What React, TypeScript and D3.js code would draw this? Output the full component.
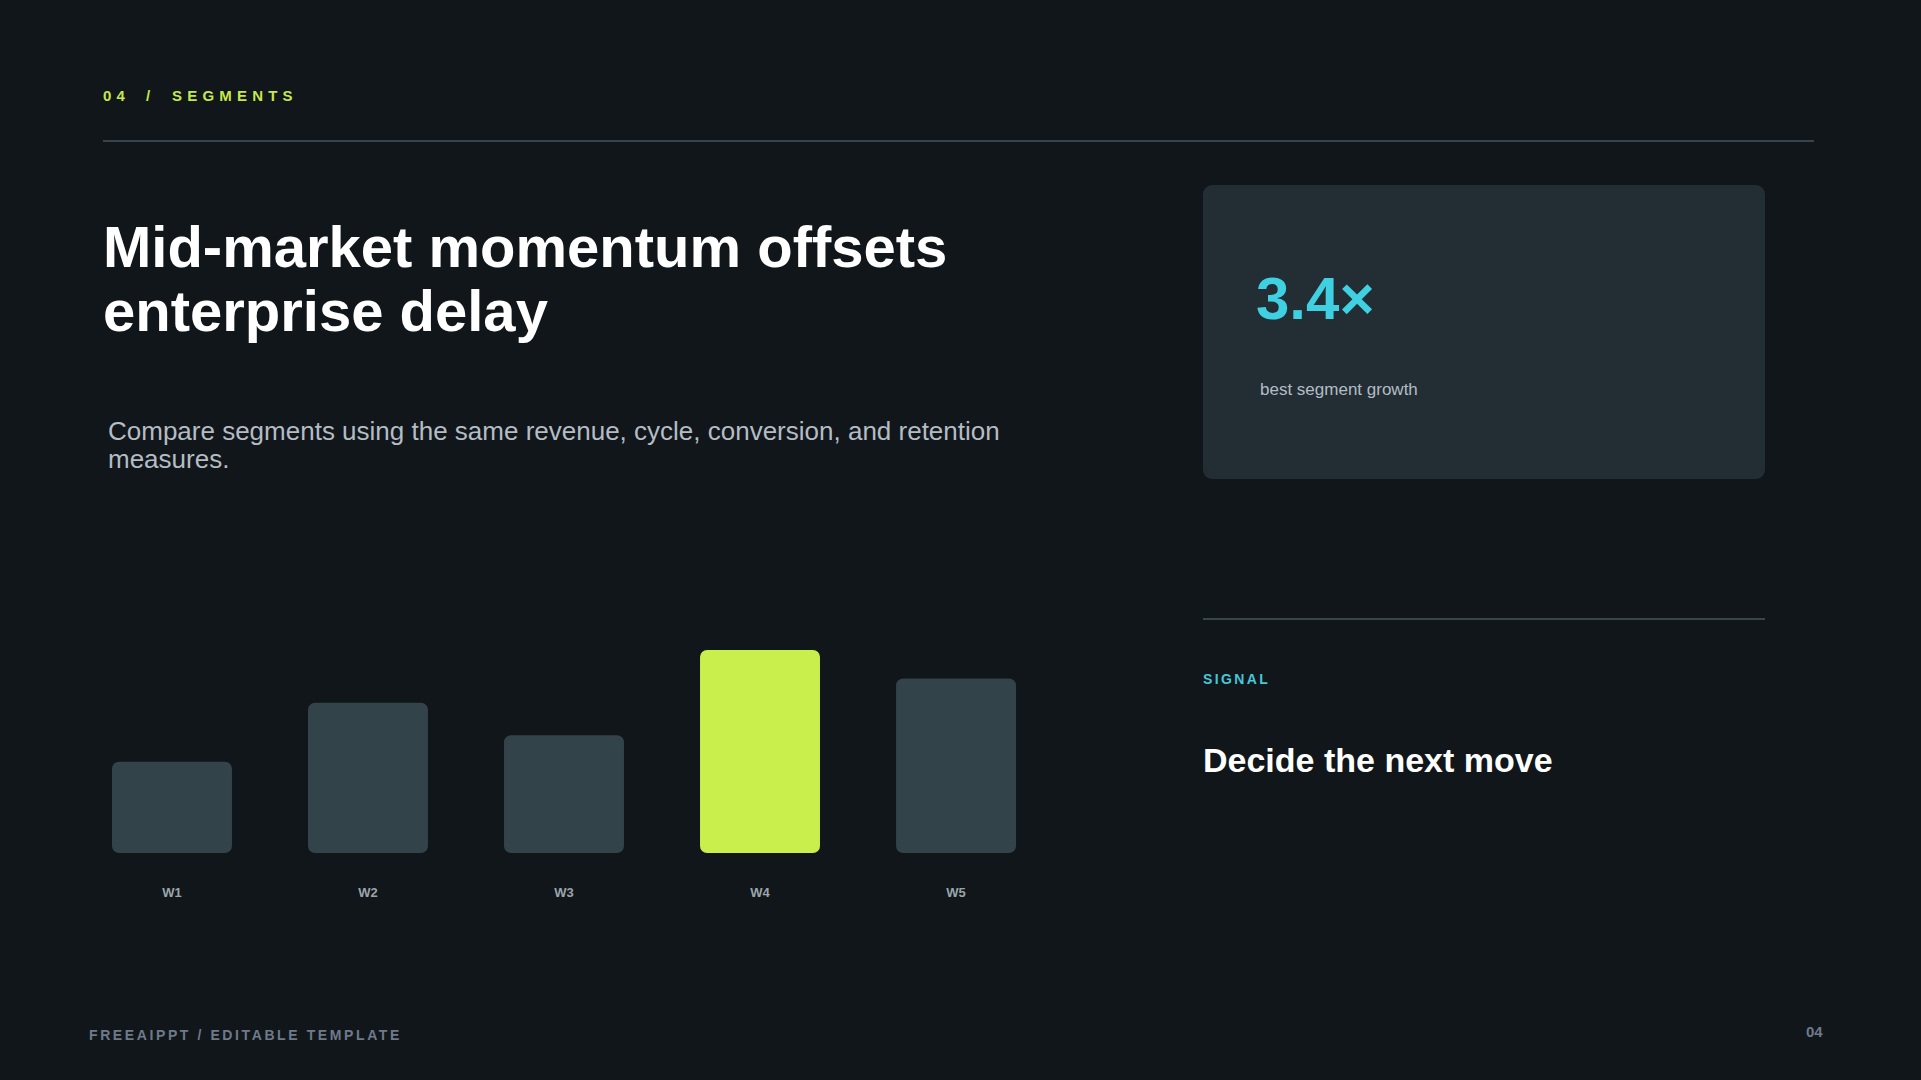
import React from 'react';
import * as d3 from 'd3';

// Chart data
const weeks = ['W1', 'W2', 'W3', 'W4', 'W5'];
const weekValues = [45, 74, 58, 100, 86];
const highlightWeek = 'W4';
const yDomain = [0, 100];

const FONT = '"Liberation Sans", Arial, sans-serif';
const BG = '#11161a';

const App: React.FC = () => {
  const width = 1921;
  const height = 1080;

  // Scales for the bar chart
  const x = d3.scaleBand<string>()
    .domain(weeks)
    .range([112, 1016])
    .paddingInner(0.388)
    .paddingOuter(0);

  const y = d3.scaleLinear()
    .domain(yDomain)
    .range([853, 650]);

  const bars = weeks.map((w, i) => ({ week: w, value: weekValues[i] }));

  return (
    <div style={{ position: 'fixed', left: 0, top: 0, width, height, background: BG }}>
      <svg width={width} height={height} style={{ display: 'block', fontFamily: FONT }}>
        <rect x={0} y={0} width={width} height={height} fill={BG} />

        {/* Header */}
        <text y={101} fill="#c5e84a" fontSize={15} fontWeight={700} letterSpacing={5.2}>
          <tspan x={103}>04</tspan>
          <tspan x={146}>/</tspan>
          <tspan x={172}>SEGMENTS</tspan>
        </text>
        <line x1={103} x2={1814} y1={141} y2={141} stroke="#38424d" strokeWidth={2} />

        {/* Title */}
        <text x={103} y={267} fill="#ffffff" fontSize={58} fontWeight={700}>
          Mid-market momentum offsets
        </text>
        <text x={103} y={331} fill="#ffffff" fontSize={58} fontWeight={700}>
          enterprise delay
        </text>

        {/* Subtitle */}
        <text x={108} y={440} fill="#b4bcc4" fontSize={26}>
          Compare segments using the same revenue, cycle, conversion, and retention
        </text>
        <text x={108} y={468} fill="#b4bcc4" fontSize={26}>
          measures.
        </text>

        {/* KPI card */}
        <rect x={1203} y={185} width={562} height={294} rx={9} fill="#222e34" />
        <text x={1256} y={319} fill="#3fd0e2" fontSize={60} fontWeight={700}>
          3.4×
        </text>
        <text x={1260} y={395} fill="#b4bcc4" fontSize={17}>
          best segment growth
        </text>

        {/* Signal block */}
        <line x1={1203} x2={1765} y1={619} y2={619} stroke="#38464a" strokeWidth={2} />
        <text x={1203} y={684} fill="#45c8d8" fontSize={14} fontWeight={700} letterSpacing={2.4}>
          SIGNAL
        </text>
        <text x={1203} y={772} fill="#ffffff" fontSize={34} fontWeight={700}>
          Decide the next move
        </text>

        {/* Bars */}
        <g>
          {bars.map(d => (
            <rect
              key={d.week}
              x={x(d.week) || 0}
              y={y(d.value)}
              width={x.bandwidth()}
              height={y(0) - y(d.value)}
              rx={7}
              fill={d.week === highlightWeek ? '#c8ef4b' : '#33434a'}
            />
          ))}
          {bars.map(d => (
            <text
              key={d.week + '-label'}
              x={(x(d.week) || 0) + x.bandwidth() / 2}
              y={897}
              textAnchor="middle"
              fill="#9aa5ab"
              fontSize={13}
              fontWeight={700}
            >
              {d.week}
            </text>
          ))}
        </g>

        {/* Footer */}
        <text x={89} y={1040} fill="#6e7a8a" fontSize={14} fontWeight={700} letterSpacing={2.6}>
          FREEAIPPT / EDITABLE TEMPLATE
        </text>
        <text x={1806} y={1037} fill="#6e7a8a" fontSize={15} fontWeight={700}>
          04
        </text>
      </svg>
    </div>
  );
};

export default App;
